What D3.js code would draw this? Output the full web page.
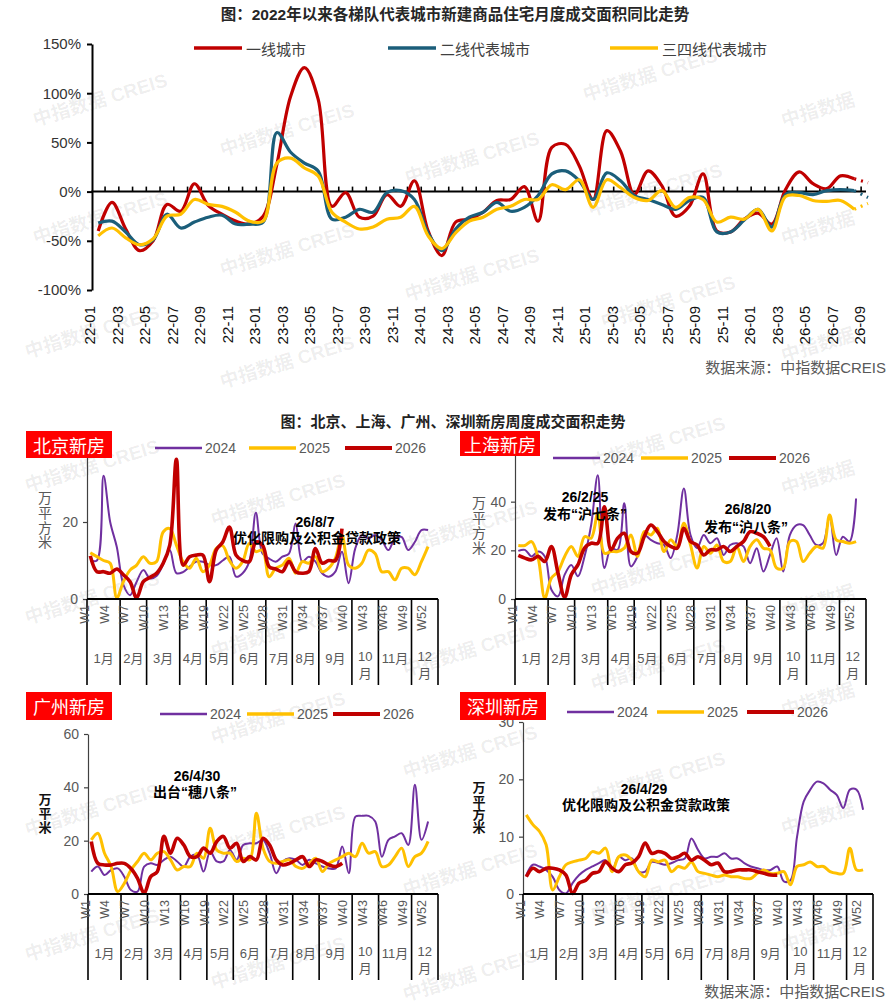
<!DOCTYPE html>
<html>
<head>
<meta charset="utf-8">
<script src="https://cdn.jsdelivr.net/npm/d3@7"></script>
<style>
  body { margin: 0; background: #fff; }
  svg { display: block; font-family: "Liberation Sans", Arial, "Noto Sans CJK SC", sans-serif; }
</style>
</head>
<body>
<div id="chart"></div>
<script>
// Tier-city YoY chart (monthly) + four weekly city panels

const WIDTH = 891;
const HEIGHT = 1005;

// ---- Top chart data: YoY change of new home sales area, % ----
const months = [
  "22-01","22-02","22-03","22-04","22-05","22-06","22-07","22-08","22-09","22-10","22-11","22-12",
  "23-01","23-02","23-03","23-04","23-05","23-06","23-07","23-08","23-09","23-10","23-11","23-12",
  "24-01","24-02","24-03","24-04","24-05","24-06","24-07","24-08","24-09","24-10","24-11","24-12",
  "25-01","25-02","25-03","25-04","25-05","25-06","25-07","25-08","25-09","25-10","25-11","25-12",
  "26-01","26-02","26-03","26-04","26-05","26-06","26-07","26-08","26-09"
];
const tier1 = [-40,-11,-38,-60,-50,-13,-20,8,-14,-23,-30,-33,-25,28,97,126,94,-15,-1,-26,-25,-3,-15,11,
  -40,-65,-31,-28,-21,-9,-8,5,-30,45,48,26,-8,62,41,-3,21,6,-25,-15,18,-40,-41,-28,-22,-33,2,20,8,3,16,13,9];
const tier2 = [-32,-30,-41,-54,-49,-23,-37,-31,-26,-24,-33,-33,-31,60,40,29,21,-28,-26,-18,-21,-1,1,-8,
  -42,-60,-38,-26,-21,-11,-20,-16,-4,18,21,11,-8,19,11,-4,-8,-13,-18,-9,-6,-41,-41,-29,-18,-36,-3,-1,-3,1,2,1,-6];
const tier34 = [-45,-37,-47,-54,-48,-25,-23,-8,-13,-15,-21,-30,-30,29,34,24,16,-21,-31,-38,-36,-28,-26,-15,
  -45,-58,-42,-30,-26,-18,-15,-8,-8,7,2,12,-16,12,4,-6,-9,1,-16,-6,-8,-31,-26,-28,-18,-40,-5,-4,-9,-10,-9,-18,-12];
const tierNames = ["一线城市", "二线代表城市", "三四线代表城市"];
const tierColors = ["#C00000", "#1B5E7A", "#FFC000"];
const pctTicks = [-100, -50, 0, 50, 100, 150];

// ---- Weekly panels data: sales area, 10k m2 ----
const weeks = d3.range(1, 54).map((i) => "W" + i);
const monthNames = ["1月","2月","3月","4月","5月","6月","7月","8月","9月","10月","11月","12月"];
const monthWeeks = [5, 4, 5, 4, 4, 5, 4, 4, 5, 4, 5, 4];
const yearNames = ["2024", "2025", "2026"];
const yearColors = ["#7030A0", "#FFC000", "#C00000"];

const bj2024 = [10,10,32,20,13.5,3.7,1,4.5,7.5,5.4,6,9,12.7,6.7,7,8.4,9.7,9.7,8.8,8.8,10,11,5.8,6.7,9.7,22.4,
  11.8,10.5,9.7,11,11.8,19.6,9.7,11,9.7,6.7,5.8,7.1,12.3,4.1,13.1,16.6,15.7,16.6,15.3,12.7,15.7,16.1,12.7,14.8,17.9,17.9];
const bj2025 = [12,11,10,9.3,0.3,4.5,7.5,8.8,11,9.3,9.7,17.4,18.3,14,9.7,8,10.6,7.1,8.8,13.1,13.8,10,8,9.7,14.4,12.3,
  12.7,5.8,8,8.8,10.6,6.7,9.7,9.3,11,7.1,8,10.6,16.6,8.8,8,9.3,12.7,11.8,7.1,7.1,5,8,8,6.3,9.7,13.6];
const bj2026 = [11.2,7.1,7.1,6.7,7.8,6.3,4.5,0.3,4.5,5.6,6.7,9.3,14,36.3,8.8,11,11.4,11.4,4.5,12.7,14.8,18.7,11.4,10,
  9.7,14.8,14,8.4,7.8,7.1,9.7,7.1,6.7,7.1,13.1,9.3,10,10,18.3];

const sh2024 = [19.8,20.2,17.5,19.5,17.5,3.8,1.1,10,14,9.3,17.5,30.4,50.9,12.7,20.9,20.2,39.3,13.4,17.5,26.3,24.3,22.9,
  22.2,16.8,26.3,45.4,26.3,20.9,26.3,22.9,25,18.1,22.2,22.9,21.6,14.7,20.9,11.3,18.1,25,11.3,26.3,30.4,30.4,26.3,22.2,22.9,33.8,18.1,25.6,23.6,41.3];
const sh2025 = [22,22,23.6,16.8,0.4,8.6,11.3,17.5,21.6,17.5,25.6,25,35.2,18.8,19.5,19.5,20.9,26.3,17.5,27.7,26.3,29.1,
  19.5,24.3,21.6,31.1,22.2,12.7,21.6,18.8,22.2,15.4,15.4,21.6,15.4,21.6,24.3,20.9,20.2,12.7,12.7,23.6,23.6,15.4,18.8,21.6,20.9,34.5,24.3,23.6,22.9,23.6];
const sh2026 = [17.9,16.8,16.1,17.5,15.4,21.6,10.6,0.7,10,14,20.9,22.9,22.9,37.9,20.2,25,27,19.5,18.8,25.6,30.4,27.7,
  23.6,21.6,20.9,29.1,23.6,22.2,18.1,20.2,20.2,21.6,19.5,21.6,23.6,27.7,27,25.6,21.6];

const gz2024 = [8.4,10.3,7.1,9,9.6,6.5,1.5,0.9,10.3,11.5,10.9,12.8,14,12.2,10.3,14,14.7,8.4,15.9,12.2,12.2,16.5,12.8,
  18.4,19,19,20.3,15.3,7.8,12.2,13.4,12.8,10.9,12.8,11.5,10.3,9.6,9.6,17.8,7.8,29,29.3,29.3,27.2,14,20.3,21.6,22.8,18.4,41,20.3,27.2];
const gz2025 = [20.3,22.8,15.3,10.3,0.9,4,9,12.2,15.3,12.8,15.3,15.9,12.8,9,10.3,10.3,15.3,13.4,24.7,16.5,15.3,15.3,
  12.2,13.4,12.8,30.3,17.2,12.2,11.5,12.2,12.8,10.3,9.6,11.5,13.4,8.4,11.5,12.8,14,15.3,14,19,15.3,15.9,10.3,10.9,14,17.2,10.3,14,15.3,19.7];
const gz2026 = [19.7,11.5,10.9,10.9,11.5,11.5,9.6,5.9,0.3,6.5,8.4,21.6,15.3,20.9,18.4,14,14,17.2,15.3,19.7,21.6,17.2,
  19,12.2,14,12.8,20.9,18.4,12.8,10.9,11.5,12.8,14,10.3,12.8,12.2,10.9,10.3,11.5];

const sz2024 = [3.3,5.1,4.8,4.2,3,0.7,0.1,1.9,3.3,4.2,4.8,5.4,5.9,4.2,6.5,5.9,6.2,3.9,3.9,5.6,5.4,5.1,5.4,5.9,6.2,9.7,
  7.7,6.2,6.5,6.5,7.1,6.2,6.2,5.4,4.8,4.5,4.2,4.2,4.8,2.2,2.4,10,16.1,18.2,19.6,19.3,18.2,17.3,15,18.2,18.2,14.7];
const sz2025 = [13.8,12.1,10.9,8.6,0.7,3,5.1,5.6,5.9,6.2,7.4,7.1,8,3.9,6.5,6.8,5.9,3.9,3,5.9,5.6,5.9,3.9,4.8,4.5,5.6,
  3.9,3.6,3.3,3,3.3,3,3,2.7,2.7,3.6,4.2,3.6,3.6,3.9,1.6,4.8,5.1,5.6,4.8,4.8,3.9,3.6,3.6,8,4.2,4.2];
const sz2026 = [3,4.5,3.9,4.5,4.5,4.2,3.3,0.1,1.9,2.4,3.6,3.9,5.6,4.5,3.9,5.1,5.4,6.5,8.9,7.1,7.4,7.1,6.2,6.5,7.1,5.9,
  6.5,5.9,5.1,5.4,3.9,3.9,4.2,4.2,4.2,3.9,3.6,3.3,3.3];

// background watermark spots
const watermarks = [
  [100,100],[287,130],[472,158],[650,75],[818,110,"中指数据"],
  [100,218],[287,250],[472,275],[655,190],[818,228,"中指数据"],
  [92,332],[287,362],[668,302],[818,345,"中指数据"],
  [92,466],[278,500],[470,527],[658,443],[818,478,"中指数据"],
  [92,598],[278,632],[470,650],[658,570],[818,602,"中指数据"],
  [278,718],[470,752],[658,665],[818,700,"中指数据"],
  [92,810],[278,832],[470,870],[658,778],[818,818,"中指数据"],
  [92,935],[278,963],[470,975],[658,895],[818,935,"中指数据"]
];

const CJK = '"Noto Sans CJK SC", sans-serif';

const svg = d3.select("#chart").append("svg")
  .attr("width", WIDTH)
  .attr("height", HEIGHT);

svg.append("rect").attr("width", WIDTH).attr("height", HEIGHT).attr("fill", "#fff");

// ---- watermarks ----
svg.append("g")
  .selectAll("text")
  .data(watermarks)
  .join("text")
  .attr("transform", (d) => `translate(${d[0]},${d[1]}) rotate(-17)`)
  .attr("text-anchor", "middle")
  .attr("dominant-baseline", "central")
  .attr("font-size", 19)
  .attr("font-weight", "bold")
  .attr("fill", "#000")
  .attr("fill-opacity", 0.075)
  .text((d) => d[2] || "中指数据 CREIS");

// =================== Top chart ===================
const topG = svg.append("g");

topG.append("text")
  .attr("x", 455).attr("y", 20)
  .attr("text-anchor", "middle")
  .attr("font-size", 15.5).attr("font-weight", "bold").attr("fill", "#262626")
  .text("图：2022年以来各梯队代表城市新建商品住宅月度成交面积同比走势");

const xM = d3.scalePoint().domain(months).range([98.2, 868]);
const stepM = xM.step();
const yM = d3.scaleLinear().domain([-100, 150]).range([290, 44]);

const yAxisTop = topG.append("g")
  .attr("transform", "translate(92,0)")
  .call(d3.axisLeft(yM).tickValues(pctTicks).tickFormat((d) => d + "%").tickSize(5).tickSizeOuter(0).tickPadding(6));
yAxisTop.select(".domain").attr("stroke", "#000").attr("stroke-width", 2);
yAxisTop.selectAll(".tick line").attr("stroke", "#000").attr("stroke-width", 2);
yAxisTop.selectAll(".tick text")
  .attr("font-size", 15).attr("fill", "#333")
  .attr("font-family", '"Liberation Sans", Arial, sans-serif');

// zero line with upward ticks between months
const y0 = yM(0);
topG.append("line")
  .attr("x1", 91.3).attr("x2", 866)
  .attr("y1", y0).attr("y2", y0)
  .attr("stroke", "#000").attr("stroke-width", 2);
topG.append("g")
  .selectAll("line")
  .data(months.slice(1))
  .join("line")
  .attr("x1", (m) => xM(m) - stepM / 2)
  .attr("x2", (m) => xM(m) - stepM / 2)
  .attr("y1", y0).attr("y2", y0 - 5)
  .attr("stroke", "#000").attr("stroke-width", 1.6);

// rotated month labels
topG.append("g")
  .selectAll("text")
  .data(months.filter((m, i) => i % 2 === 0))
  .join("text")
  .attr("transform", (m) => `translate(${xM(m) - 8},306) rotate(-90)`)
  .attr("text-anchor", "end")
  .attr("dy", "0.35em")
  .attr("font-size", 15).attr("fill", "#111")
  .text((m) => m);

// lines
const tierSeries = [tier1, tier2, tier34];
const lineTop = d3.line()
  .x((d) => xM(months[d.i]))
  .y((d) => yM(d.v))
  .curve(d3.curveCatmullRom.alpha(0.5));

tierSeries.forEach((vals, k) => {
  const pts = vals.map((v, i) => ({ i, v }));
  topG.append("path")
    .datum(pts.slice(0, pts.length - 1))
    .attr("d", lineTop)
    .attr("fill", "none")
    .attr("stroke", tierColors[k])
    .attr("stroke-width", 3.2)
    .attr("stroke-linejoin", "round");
  topG.append("path")
    .datum(pts.slice(pts.length - 2))
    .attr("d", lineTop)
    .attr("fill", "none")
    .attr("stroke", tierColors[k])
    .attr("stroke-width", 3.2)
    .attr("stroke-dasharray", "2,5");
});

// legend
const topLegendX = [194, 388, 610];
tierNames.forEach((name, k) => {
  topG.append("line")
    .attr("x1", topLegendX[k]).attr("x2", topLegendX[k] + 48)
    .attr("y1", 48).attr("y2", 48)
    .attr("stroke", tierColors[k]).attr("stroke-width", 3.5);
  topG.append("text")
    .attr("x", topLegendX[k] + 52).attr("y", 48)
    .attr("dominant-baseline", "central")
    .attr("font-size", 15).attr("fill", "#404040")
    .attr("font-family", CJK)
    .text(name);
});

topG.append("text")
  .attr("x", 886).attr("y", 373)
  .attr("text-anchor", "end")
  .attr("font-size", 15).attr("fill", "#595959")
  .text("数据来源：中指数据CREIS");

// =================== Weekly panels ===================
svg.append("text")
  .attr("x", 453).attr("y", 427)
  .attr("text-anchor", "middle")
  .attr("font-size", 15).attr("font-weight", "bold").attr("fill", "#222")
  .text("图：北京、上海、广州、深圳新房周度成交面积走势");

// top tick of Beijing / Shanghai sits behind the title box, so only lower ticks are labelled
const panels = [
  {
    title: "北京新房", box: [26, 431, 86, 27],
    x0: 87, x1: 438, yBase: 599, yTop: 445, max: 40, ticks: [0, 20],
    series: [bj2024, bj2025, bj2026],
    legendY: 448, legendX: [155, 249, 345],
    unit: "万平方米", unitX: 45, unitY: 491, unitStep: 14.6, unitSize: 14, unitColor: "#595959", unitWeight: "normal",
    notes: [[315, 522, "26/8/7"], [317, 538, "优化限购及公积金贷款政策"]]
  },
  {
    title: "上海新房", box: [460, 431, 80, 25],
    x0: 515, x1: 866, yBase: 599, yTop: 453, max: 60, ticks: [0, 20, 40],
    series: [sh2024, sh2025, sh2026],
    legendY: 458, legendX: [553, 641, 729],
    unit: "万平方米", unitX: 479, unitY: 496, unitStep: 15, unitSize: 14, unitColor: "#595959", unitWeight: "normal",
    notes: [[585, 497, "26/2/25"], [585, 514, "发布“沪七条”"], [748, 509, "26/8/20"], [746, 527, "发布“沪八条”"]]
  },
  {
    title: "广州新房", box: [26, 692, 86, 28],
    x0: 88, x1: 438, yBase: 894, yTop: 734, max: 60, ticks: [0, 20, 40, 60],
    series: [gz2024, gz2025, gz2026],
    legendY: 714, legendX: [160, 247, 333],
    unit: "万平米", unitX: 45, unitY: 793, unitStep: 13.6, unitSize: 13, unitColor: "#111", unitWeight: "bold",
    notes: [[197, 776, "26/4/30"], [195, 792, "出台“穗八条”"]]
  },
  {
    title: "深圳新房", box: [460, 692, 86, 28],
    x0: 523, x1: 873, yBase: 894, yTop: 722, max: 30, ticks: [0, 10, 20, 30],
    series: [sz2024, sz2025, sz2026],
    legendY: 712, legendX: [567, 657, 747],
    unit: "万平方米", unitX: 479, unitY: 781, unitStep: 13.2, unitSize: 13, unitColor: "#111", unitWeight: "bold",
    notes: [[644, 789, "26/4/29"], [646, 805, "优化限购及公积金贷款政策"]]
  }
];

const seriesWidths = [2, 3, 3.6];

function drawPanel(p) {
  const g = svg.append("g");
  const x = d3.scaleBand().domain(weeks).range([p.x0, p.x1]);
  const bw = x.bandwidth();
  const cx = (w) => x(w) + bw / 2;
  const y = d3.scaleLinear().domain([0, p.max]).range([p.yBase, p.yTop]);

  // y axis
  const ya = g.append("g")
    .attr("transform", `translate(${p.x0},0)`)
    .call(d3.axisLeft(y).tickValues(p.ticks).tickSize(4).tickSizeOuter(0).tickPadding(5));
  ya.select(".domain").attr("stroke", "#404040").attr("stroke-width", 1.2);
  ya.selectAll(".tick line").attr("stroke", "#404040").attr("stroke-width", 1.2);
  ya.selectAll(".tick text")
    .attr("font-size", 14).attr("fill", "#595959")
    .attr("font-family", '"Liberation Sans", Arial, sans-serif');

  // unit label, written vertically as one text
  g.append("text")
    .attr("x", p.unitX)
    .attr("y", p.unitY)
    .style("writing-mode", "vertical-rl")
    .style("letter-spacing", (p.unitStep - p.unitSize) + "px")
    .attr("font-size", p.unitSize).attr("fill", p.unitColor).attr("font-weight", p.unitWeight)
    .attr("font-family", CJK)
    .text(p.unit);

  // month separators
  const bounds = [0];
  monthWeeks.forEach((n) => bounds.push(bounds[bounds.length - 1] + n));
  g.append("g")
    .selectAll("line")
    .data(bounds)
    .join("line")
    .attr("x1", (k) => p.x0 + k * bw)
    .attr("x2", (k) => p.x0 + k * bw)
    .attr("y1", p.yBase).attr("y2", p.yBase + 86)
    .attr("stroke", "#000").attr("stroke-width", 1.6);

  // week labels
  g.append("g")
    .selectAll("text")
    .data(weeks.filter((w, i) => i % 3 === 0 && i < 52))
    .join("text")
    .attr("transform", (w) => `translate(${cx(w) - 6},${p.yBase + 6}) rotate(-90)`)
    .attr("text-anchor", "end")
    .attr("dy", "0.35em")
    .attr("font-size", 12.5).attr("fill", "#595959")
    .text((w) => w);

  // month labels
  monthNames.forEach((m, i) => {
    const mx = p.x0 + ((bounds[i] + bounds[i + 1]) / 2) * bw;
    const t = g.append("text")
      .attr("text-anchor", "middle")
      .attr("dominant-baseline", "central")
      .attr("font-size", 13).attr("fill", "#595959");
    if (m.length > 2 && monthWeeks[i] < 5) {
      t.append("tspan").attr("x", mx).attr("y", p.yBase + 57).text(m.slice(0, 2));
      t.append("tspan").attr("x", mx).attr("y", p.yBase + 74).text(m.slice(2));
    } else {
      t.attr("x", mx).attr("y", p.yBase + 59).text(m);
    }
  });

  // series lines
  const line = d3.line()
    .x((d, i) => cx(weeks[i]))
    .y((d) => y(d))
    .curve(d3.curveCatmullRom.alpha(0.5));
  p.series.forEach((s, k) => {
    g.append("path")
      .datum(s)
      .attr("d", line)
      .attr("fill", "none")
      .attr("stroke", yearColors[k])
      .attr("stroke-width", seriesWidths[k])
      .attr("stroke-linejoin", "round");
  });

  // x axis line
  g.append("line")
    .attr("x1", p.x0).attr("x2", p.x1)
    .attr("y1", p.yBase).attr("y2", p.yBase)
    .attr("stroke", "#000").attr("stroke-width", 2);

  // legend
  yearNames.forEach((name, k) => {
    const lx = p.legendX[k];
    g.append("line")
      .attr("x1", lx).attr("x2", lx + 47)
      .attr("y1", p.legendY).attr("y2", p.legendY)
      .attr("stroke", yearColors[k]).attr("stroke-width", seriesWidths[k] + 0.5);
    g.append("text")
      .attr("x", lx + 50).attr("y", p.legendY)
      .attr("dominant-baseline", "central")
      .attr("font-size", 14).attr("fill", "#595959")
      .text(name);
  });

  // policy notes
  g.append("g")
    .selectAll("text")
    .data(p.notes)
    .join("text")
    .attr("x", (d) => d[0])
    .attr("y", (d) => d[1])
    .attr("text-anchor", "middle")
    .attr("dominant-baseline", "central")
    .attr("font-size", 14).attr("font-weight", "bold").attr("fill", "#000")
    .text((d) => d[2]);

  // title box
  g.append("rect")
    .attr("x", p.box[0]).attr("y", p.box[1])
    .attr("width", p.box[2]).attr("height", p.box[3])
    .attr("fill", "#FF0000");
  g.append("text")
    .attr("x", p.box[0] + p.box[2] / 2).attr("y", p.box[1] + p.box[3] / 2)
    .attr("text-anchor", "middle")
    .attr("dominant-baseline", "central")
    .attr("font-size", 18).attr("fill", "#fff")
    .attr("font-family", CJK)
    .text(p.title);
}

panels.forEach(drawPanel);

svg.append("text")
  .attr("x", 885).attr("y", 997)
  .attr("text-anchor", "end")
  .attr("font-size", 15).attr("fill", "#595959")
  .text("数据来源：中指数据CREIS");
</script>
</body>
</html>
